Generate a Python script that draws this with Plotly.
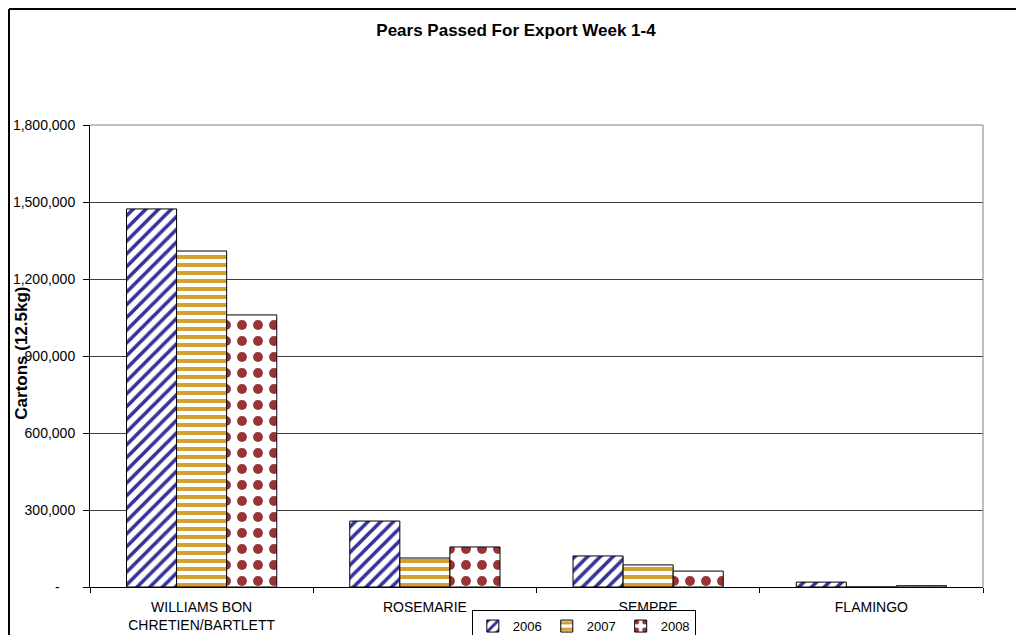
import plotly.graph_objects as go

categories = ["WILLIAMS BON<br>CHRETIEN/BARTLETT", "ROSEMARIE", "SEMPRE", "FLAMINGO"]
years = ["2006", "2007", "2008"]
v2006 = [1473000, 257000, 121000, 19000]
v2007 = [1309000, 113000, 86000, 0]
v2008 = [1060000, 156000, 62000, 5000]
tick_vals = [0, 300000, 600000, 900000, 1200000, 1500000, 1800000]
tick_text = ["-\u00a0\u00a0\u00a0\u00a0", "300,000", "600,000", "900,000", "1,200,000", "1,500,000", "1,800,000"]

series = [v2006, v2007, v2008]
patterns = [
    dict(shape="/", fgcolor="#333399", bgcolor="white", size=9, solidity=0.4, fillmode="replace"),
    dict(shape="-", fgcolor="#D4A030", bgcolor="white", size=8, solidity=0.5, fillmode="replace"),
    dict(shape=".", fgcolor="#993333", bgcolor="white", size=16, solidity=0.3, fillmode="replace"),
]

fig = go.Figure()
for name, vals, pat in zip(years, series, patterns):
    fig.add_trace(go.Bar(
        x=categories, y=vals, name=name,
        marker=dict(color="white", pattern=pat, line=dict(color="black", width=1)),
    ))

FONT = "Liberation Sans, Arial, sans-serif"
W, H = 1016, 627
L, T, PW, PH = 82, 117, 893, 462
fig.update_layout(
    width=W, height=H,
    margin=dict(l=L, r=W - L - PW, t=T, b=H - T - PH, autoexpand=False),
    paper_bgcolor="white", plot_bgcolor="white",
    font=dict(family=FONT, size=14, color="black"),
    barmode="group", bargap=0.327, bargroupgap=0,
    title=dict(text="<b>Pears Passed For Export Week 1-4</b>", x=0.5, xanchor="center",
               y=1 - 22 / H, yref="container", yanchor="middle",
               font=dict(family=FONT, size=17, color="black")),
    showlegend=True,
    legend=dict(orientation="h", x=0.553, xanchor="center", y=-0.05, yanchor="top",
                bordercolor="black", borderwidth=1, bgcolor="white",
                font=dict(family=FONT, size=13, color="black"),
                itemwidth=30, tracegroupgap=0),
    xaxis=dict(showline=True, linecolor="black", linewidth=1,
               ticks="outside", tickson="boundaries", ticklen=5, tickcolor="black",
               ticklabelstandoff=7,
               showgrid=False, tickfont=dict(size=14)),
    yaxis=dict(range=[0, 1800000], tickvals=tick_vals, ticktext=tick_text,
               showline=True, linecolor="black", linewidth=1,
               ticks="outside", ticklen=6, tickcolor="black",
               ticklabelstandoff=5,
               showgrid=True, gridcolor="#404040", gridwidth=1,
               zeroline=False, tickfont=dict(size=14)),
    annotations=[dict(text="<b>Cartons (12.5kg)</b>", textangle=-90,
                      x=(22 - 90) / PW, y=0.505, xref="paper", yref="paper",
                      xanchor="center", yanchor="middle", showarrow=False,
                      font=dict(family=FONT, size=17, color="black"))],
    shapes=[
        dict(type="line", xref="paper", yref="paper", x0=1, x1=1, y0=0, y1=1,
             line=dict(color="#808080", width=1)),
        dict(type="line", xref="paper", yref="paper", x0=0, x1=1, y0=1, y1=1,
             line=dict(color="#808080", width=1)),
        dict(type="line", xref="paper", yref="paper", x0=-(L - 1) / PW, x1=1.06,
             y0=(587 - 9) / PH, y1=(587 - 9) / PH, line=dict(color="black", width=2)),
        dict(type="line", xref="paper", yref="paper", x0=-(L - 1) / PW, x1=-(L - 1) / PW,
             y0=(587 - 9) / PH, y1=-0.2, line=dict(color="black", width=2)),
    ],
)

fig.write_html("out.html")
